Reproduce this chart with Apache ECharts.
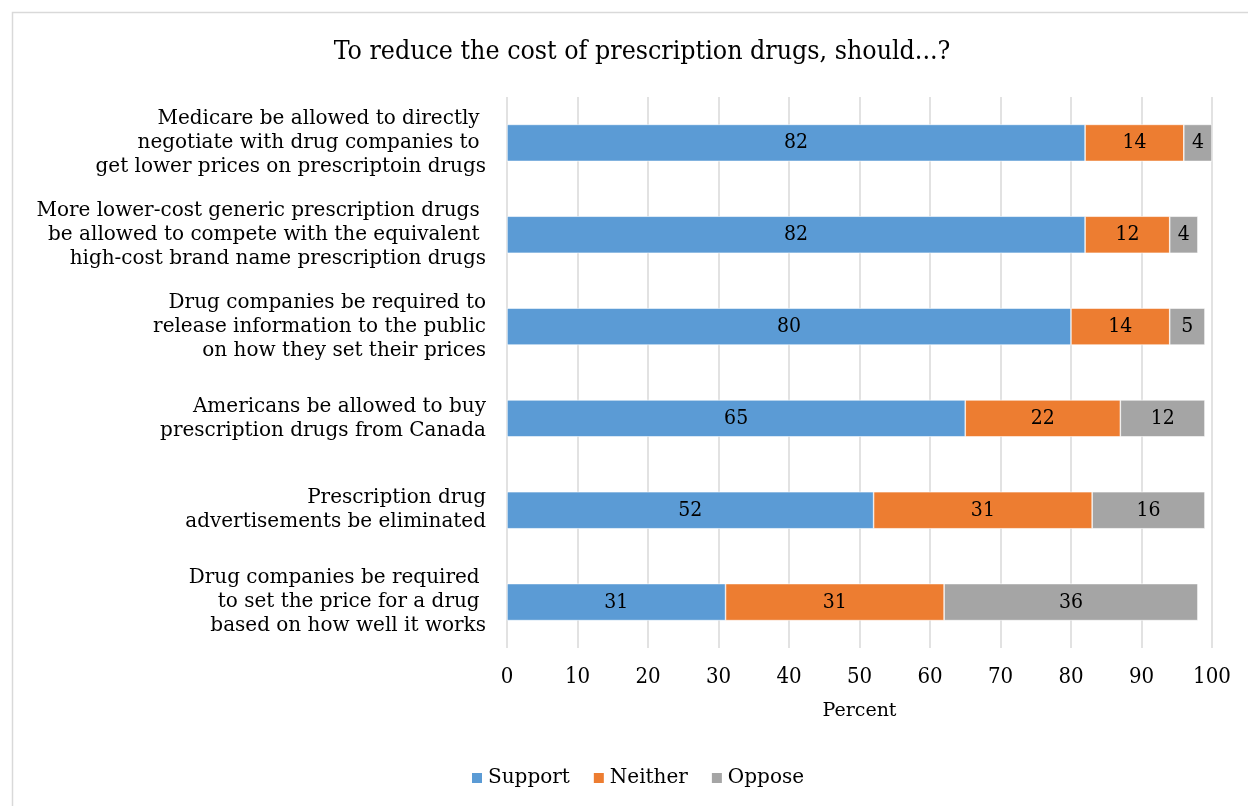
<!DOCTYPE html>
<html>
<head>
<meta charset="utf-8">
<script src="https://cdn.jsdelivr.net/npm/echarts@6/dist/echarts.min.js"></script>
<style>
  html, body { margin: 0; padding: 0; background: #fff; }
  #chart { width: 1248px; height: 806px; }
</style>
</head>
<body>
<div id="chart"></div>
<script>
// Survey items (top to bottom)
const categories = [
  'Medicare be allowed to directly \nnegotiate with drug companies to \nget lower prices on prescriptoin drugs',
  'More lower-cost generic prescription drugs \nbe allowed to compete with the equivalent \nhigh-cost brand name prescription drugs',
  'Drug companies be required to\nrelease information to the public\non how they set their prices',
  'Americans be allowed to buy\nprescription drugs from Canada',
  'Prescription drug\nadvertisements be eliminated',
  'Drug companies be required \nto set the price for a drug \nbased on how well it works'
];
const support = [82, 82, 80, 65, 52, 31];
const neither = [14, 12, 14, 22, 31, 31];
const oppose  = [4, 4, 5, 12, 16, 36];
const xTicks = [0, 10, 20, 30, 40, 50, 60, 70, 80, 90, 100];

const SERIF = '"DejaVu Serif", serif';
const NARROW = '"DejaVu Serif Condensed", "DejaVu Serif", serif';
const colors = ['#5b9bd5', '#ed7d31', '#a5a5a5'];

function stackSeries(name, data, color) {
  return {
    name, type: 'bar', stack: 'total', data,
    barWidth: 37,
    itemStyle: { color, borderColor: '#ffffff', borderWidth: 0.6 },
    label: {
      show: true, position: 'inside', color: '#000',
      fontFamily: NARROW, fontSize: 21
    },
    emphasis: { disabled: true }
  };
}

const chart = echarts.init(document.getElementById('chart'), null, { renderer: 'canvas' });
chart.setOption({
  animation: false,
  backgroundColor: '#ffffff',
  color: colors,
  textStyle: { fontFamily: SERIF },
  title: {
    text: 'To reduce the cost of prescription drugs, should...?',
    left: 637, top: 34, textAlign: 'center',
    textStyle: { fontFamily: NARROW, fontSize: 26.5, fontWeight: 'normal', color: '#000' }
  },
  graphic: [{
    type: 'rect', silent: true, z: -1,
    shape: { x: 12.5, y: 12.5, width: 1260, height: 820 },
    style: { fill: 'none', stroke: '#d9d9d9', lineWidth: 1.5 }
  }],
  legend: {
    data: ['Support', 'Neither', 'Oppose'],
    left: 465, top: 763,
    itemWidth: 12, itemHeight: 12, itemGap: 22,
    icon: 'rect',
    textStyle: { fontFamily: SERIF, fontSize: 20, color: '#000' }
  },
  grid: { left: 507, right: 36, top: 97, bottom: 158, containLabel: false },
  xAxis: {
    type: 'value', min: 0, max: 100, interval: 10,
    name: 'Percent', nameLocation: 'middle', nameGap: 54,
    nameTextStyle: { fontFamily: SERIF, fontSize: 19, color: '#000' },
    axisLine: { show: false },
    axisTick: { show: false },
    axisLabel: {
      margin: 18, fontFamily: NARROW, fontSize: 22, color: '#000',
      formatter: v => (xTicks.includes(v) ? String(v) : '')
    },
    splitLine: { show: true, lineStyle: { color: '#d9d9d9', width: 1.5 } }
  },
  yAxis: {
    type: 'category', data: categories, inverse: true,
    axisLine: { show: false },
    axisTick: { show: false },
    axisLabel: {
      margin: 21, fontFamily: SERIF, fontSize: 20, lineHeight: 24,
      color: '#000', align: 'right'
    }
  },
  series: [
    stackSeries('Support', support, colors[0]),
    stackSeries('Neither', neither, colors[1]),
    stackSeries('Oppose', oppose, colors[2])
  ]
});
</script>
</body>
</html>
